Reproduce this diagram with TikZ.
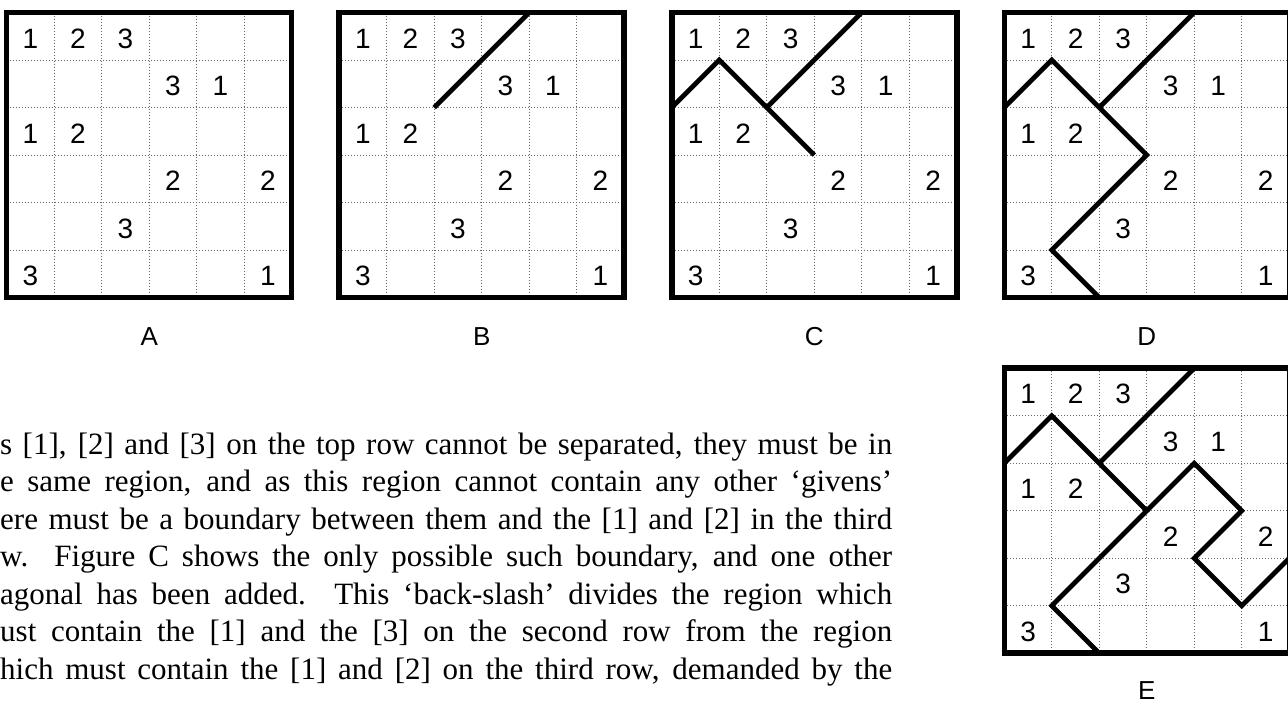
\documentclass[tikz,border=0pt]{standalone}
\usepackage{fontspec}
\setmainfont{Liberation Serif}
\newfontfamily\arialfont{Liberation Sans}
\tikzset{
  gridline/.style={line width=1pt, black!60, dash pattern=on 1pt off 2pt},
  border/.style={line width=5.5pt, line join=miter},
  wall/.style={line width=4.8pt, line join=miter, line cap=butt},
  digit/.style={inner sep=0pt, anchor=base, font=\fontsize{28}{30}\arialfont},
  figlabel/.style={inner sep=0pt, anchor=base, font=\fontsize{26}{28}\arialfont},
  textline/.style={inner sep=0pt, anchor=base west, font=\fontsize{31}{37}\selectfont},
}
\newcommand\drawpuzzle[3]{%
  \begin{scope}[shift={(#2,#3)}]
    \foreach \i in {1,...,5} {
      \draw[gridline] (\i*47.5,0) -- (\i*47.5,285);
      \draw[gridline] (0,\i*47.5) -- (285,\i*47.5);
    }
    \foreach \r/\c/\v in {1/1/1,1/2/2,1/3/3,2/4/3,2/5/1,3/1/1,3/2/2,4/4/2,4/6/2,5/3/3,6/1/3,6/6/1}
      \node[digit] (#1-\r-\c) at ({(\c-0.5)*47.5},{(\r-0.5)*47.5+12}) {\v};
  \end{scope}}
\newcommand\drawframe[2]{%
  \draw[border] (#1,#2) rectangle ++(285,285);}
\begin{document}
\begin{tikzpicture}[x=1pt,y=-1pt]
\useasboundingbox[fill=white] (0,0) rectangle (1288,702);

% A
\drawpuzzle{A}{6.7}{12.5}
\drawframe{6.7}{12.5}
\node[figlabel] (labA) at (149.3,345.5) {A};

% B
\drawpuzzle{B}{339.2}{12.5}
\begin{scope}[shift={(339.2,12.5)}, x=47.5pt, y=-47.5pt]
  \draw[wall] (4,0) -- (2,2);
\end{scope}
\drawframe{339.2}{12.5}
\node[figlabel] (labB) at (481.7,345.5) {B};

% C
\drawpuzzle{C}{671.8}{12.5}
\begin{scope}[shift={(671.8,12.5)}, x=47.5pt, y=-47.5pt]
  \draw[wall] (4,0) -- (2,2);
  \draw[wall] (0,2) -- (1,1) -- (2,2) -- (3,3);
\end{scope}
\drawframe{671.8}{12.5}
\node[figlabel] (labC) at (814.3,345.5) {C};

% D
\drawpuzzle{D}{1004.3}{12.5}
\begin{scope}[shift={(1004.3,12.5)}, x=47.5pt, y=-47.5pt]
  \draw[wall] (4,0) -- (2,2);
  \draw[wall] (0,2) -- (1,1) -- (2,2) -- (3,3) -- (1,5) -- (2,6);
\end{scope}
\drawframe{1004.3}{12.5}
\node[figlabel] (labD) at (1146.8,345.5) {D};

% E
\drawpuzzle{E}{1004.3}{368.2}
\begin{scope}[shift={(1004.3,368.2)}, x=47.5pt, y=-47.5pt]
  \draw[wall] (4,0) -- (2,2);
  \draw[wall] (0,2) -- (1,1) -- (2,2) -- (3,3) -- (1,5) -- (2,6);
  \draw[wall] (3,3) -- (4,2) -- (5,3) -- (4,4) -- (5,5) -- (6,4);
\end{scope}
\drawframe{1004.3}{368.2}
\node[figlabel] (labE) at (1146.8,699) {E};

% paragraph
\node[textline] (t1) at (0,454) {\makebox[892pt][s]{s [1], [2] and [3] on the top row cannot be separated, they must be in}};
\node[textline] (t2) at (0,491.5) {\makebox[892pt][s]{e same region, and as this region cannot contain any other ‘givens’}};
\node[textline] (t3) at (0,529) {\makebox[892pt][s]{ere must be a boundary between them and the [1] and [2] in the third}};
\node[textline] (t4) at (0,566.5) {\makebox[892pt][s]{w. Figure C shows the only possible such boundary, and one other}};
\node[textline] (t5) at (0,604) {\makebox[892pt][s]{agonal has been added. This ‘back-slash’ divides the region which}};
\node[textline] (t6) at (0,641.5) {\makebox[892pt][s]{ust contain the [1] and the [3] on the second row from the region}};
\node[textline] (t7) at (0,679) {\makebox[892pt][s]{hich must contain the [1] and [2] on the third row, demanded by the}};
\end{tikzpicture}
\end{document}
